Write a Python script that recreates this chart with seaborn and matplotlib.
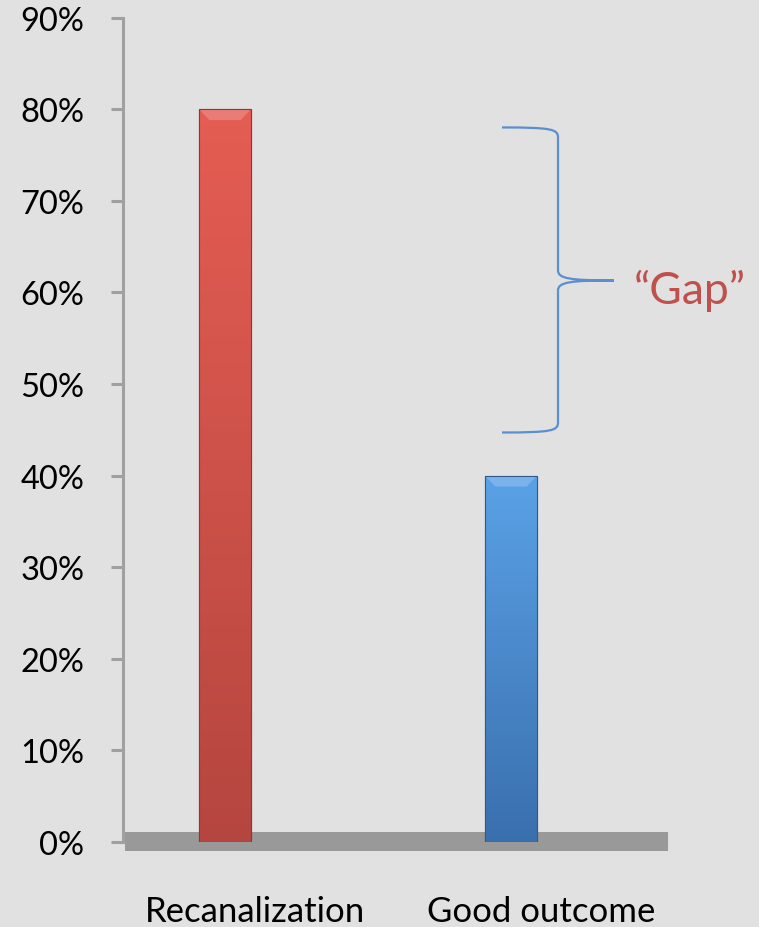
import numpy as np
import pandas as pd
import matplotlib
matplotlib.use("Agg")
import matplotlib.pyplot as plt
import matplotlib.transforms as mtransforms
import seaborn as sns
from matplotlib.patches import Rectangle, PathPatch
from matplotlib.path import Path
from matplotlib.ticker import PercentFormatter
from matplotlib.colors import LinearSegmentedColormap

categories = ["Recanalization", "Good outcome"]
values = [0.80, 0.40]
bar_colors = ["#d9534a", "#4a8fd6"]
gap_label = "\u201cGap\u201d"
gap_top = 0.78
gap_bottom = 0.447
yticks = [0.0, 0.1, 0.2, 0.3, 0.4, 0.5, 0.6, 0.7, 0.8, 0.9]

BG = "#e1e1e1"
sns.set_theme(style="white")
plt.rcParams["font.family"] = ["Lato", "DejaVu Sans"]

fig = plt.figure(figsize=(7.59, 9.28), dpi=100, facecolor=BG)
ax = fig.add_axes([123 / 759, (928 - 843) / 928, (668 - 123) / 759, (843 - 18.5) / 928])
ax.set_facecolor(BG)

df = pd.DataFrame({"cat": categories, "val": values})
sns.barplot(data=df, x="cat", y="val", hue="cat", palette=bar_colors,
            width=0.182, legend=False, ax=ax, zorder=3)

# gradient overlays on bars
grads = [("#e55d53", "#b5463f"), ("#5aa2e6", "#3a6fae")]
edges = ["#8a3a33", "#2f5b8c"]
for patch, (ctop, cbot), ec in zip(list(ax.patches), grads, edges):
    patch.set_edgecolor(ec)
    patch.set_linewidth(0.8)
    bb = patch.get_bbox()
    cmap = LinearSegmentedColormap.from_list("g", [cbot, ctop])
    grad = np.linspace(0, 1, 256).reshape(-1, 1)
    im = ax.imshow(grad, extent=[bb.x0, bb.x1, bb.y0, bb.y1], origin="lower",
                   aspect="auto", cmap=cmap, zorder=3.5)
    im.set_clip_path(patch)
    w = bb.x1 - bb.x0
    bev = Path([(bb.x0, bb.y1), (bb.x1, bb.y1), (bb.x1 - w * 0.2, bb.y1 - 0.012),
                (bb.x0 + w * 0.2, bb.y1 - 0.012), (bb.x0, bb.y1)])
    ax.add_patch(PathPatch(bev, facecolor="white", alpha=0.2, lw=0, zorder=3.6))
    ax.add_patch(Rectangle((bb.x0, bb.y0), w, bb.y1 - bb.y0, fill=False,
                           edgecolor=ec, lw=0.8, zorder=3.7))

xl = (-102 / 286, 1 + 157 / 286)
ax.set_xlim(*xl)
ax.set_ylim(0, 0.9)

# floor band
ax.add_patch(Rectangle((xl[0] + 2 / 286, -0.0098), xl[1] - xl[0] - 2 / 286, 0.0207,
                       facecolor="#999999", edgecolor="none", clip_on=False, zorder=2))

ax.set_yticks(yticks)
ax.yaxis.set_major_formatter(PercentFormatter(1.0, decimals=0))
ax.tick_params(axis="y", direction="out", length=9, width=2.2, color="#a0a0a0",
               labelsize=23.5, pad=19, labelcolor="black", left=True)
ax.tick_params(axis="x", length=0, labelsize=25, pad=38, labelcolor="black")
shift = mtransforms.ScaledTranslation(30 / 100, 0, fig.dpi_scale_trans)
for lab in ax.get_xticklabels():
    lab.set_transform(lab.get_transform() + shift)
for s in ["top", "right", "bottom"]:
    ax.spines[s].set_visible(False)
ax.spines["left"].set_color("#a0a0a0")
ax.spines["left"].set_linewidth(2.2)
ax.set_xlabel("")
ax.set_ylabel("")

# brace
x_end = (502 - 225) / 286
x_mid = (558 - 225) / 286
x_tip = (614 - 225) / 286
y_mid = 0.613
c = 0.011
verts = [
    (x_end, gap_top), (x_mid - 0.02, gap_top), (x_mid, gap_top - 0.002), (x_mid, gap_top - c),
    (x_mid, y_mid + c),
    (x_mid, y_mid + 0.002), (x_mid + 0.04, y_mid), (x_tip, y_mid),
    (x_mid + 0.04, y_mid), (x_mid, y_mid - 0.002), (x_mid, y_mid - c),
    (x_mid, gap_bottom + c),
    (x_mid, gap_bottom + 0.002), (x_mid - 0.02, gap_bottom), (x_end, gap_bottom),
]
codes = [Path.MOVETO, Path.CURVE4, Path.CURVE4, Path.CURVE4,
         Path.LINETO,
         Path.CURVE4, Path.CURVE4, Path.CURVE4,
         Path.CURVE4, Path.CURVE4, Path.CURVE4,
         Path.LINETO,
         Path.CURVE4, Path.CURVE4, Path.CURVE4]
ax.add_patch(PathPatch(Path(verts, codes), facecolor="none", edgecolor="#5b8fcf",
                       lw=1.6, clip_on=False, zorder=4))

ax.text((634 - 225) / 286, 0.603, gap_label, color="#c0504d", fontsize=32,
        ha="left", va="center", clip_on=False)

fig.savefig("out.png", dpi=100, facecolor=BG)
